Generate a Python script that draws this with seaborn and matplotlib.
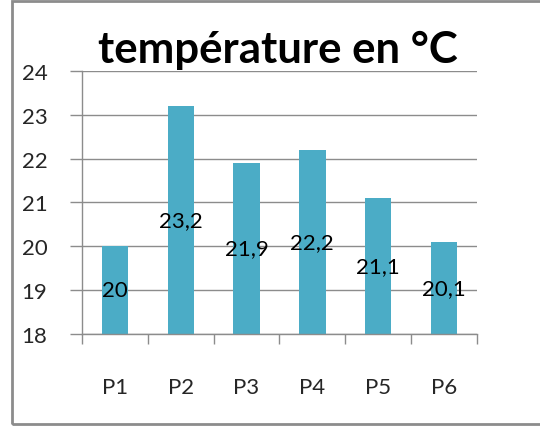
import matplotlib
matplotlib.use("Agg")
import matplotlib.pyplot as plt
import matplotlib.patches as mpatches
import seaborn as sns
import pandas as pd
import numpy as np

categories = ["P1", "P2", "P3", "P4", "P5", "P6"]
values = [20.0, 23.2, 21.9, 22.2, 21.1, 20.1]
title = "température en °C"

df = pd.DataFrame({"cat": categories, "val": values})

sns.set_style("white")
plt.rcParams['font.family'] = ['Lato', 'DejaVu Sans']

fig = plt.figure(figsize=(5.4, 4.27), dpi=100)
ax = fig.add_axes([0.152, 0.2155, 0.731, 0.6159])

bar_color = "#4BACC6"
sns.barplot(data=df, x="cat", y="val", color=bar_color, width=0.4, saturation=1,
            linewidth=0, ax=ax)

ax.set_ylim(18, 24)
ax.set_xlim(-0.5, len(categories) - 0.5)
ax.set_yticks(np.arange(18, 25, 1))
ax.yaxis.grid(True, color="#8c8c8c", linewidth=1)
ax.set_axisbelow(True)
ax.set_xlabel("")
ax.set_ylabel("")

for s in ["top", "right"]:
    ax.spines[s].set_visible(False)
for s in ["left", "bottom"]:
    ax.spines[s].set_color("#8c8c8c")
    ax.spines[s].set_linewidth(1)

fs = 16
ax.tick_params(axis="y", which="major", length=9, color="#8c8c8c", width=1,
               labelsize=fs, pad=16, direction="out", left=True)
ax.tick_params(axis="x", which="major", length=0, labelsize=fs, pad=31)
ax.set_xticks(np.arange(-0.5, len(categories), 1), minor=True)
ax.tick_params(axis="x", which="minor", length=7, color="#8c8c8c", width=1, bottom=True, direction="out")

for i, v in enumerate(values):
    lab = f"{v:g}".replace(".", ",")
    ax.text(i, (18 + v) / 2, lab, ha="center", va="center", fontsize=fs, color="black")

fig.text(0.515, 0.853, title, ha="center", va="baseline", fontsize=31.5, fontweight="bold",
         color="black")

rect = mpatches.Rectangle((12 / 540, 2 / 427), 1.0, 1 - 4 / 427, transform=fig.transFigure,
                          fill=False, edgecolor="#8c8c8c", linewidth=2, clip_on=False)
fig.patches.append(rect)

fig.savefig("out.png", dpi=100)
